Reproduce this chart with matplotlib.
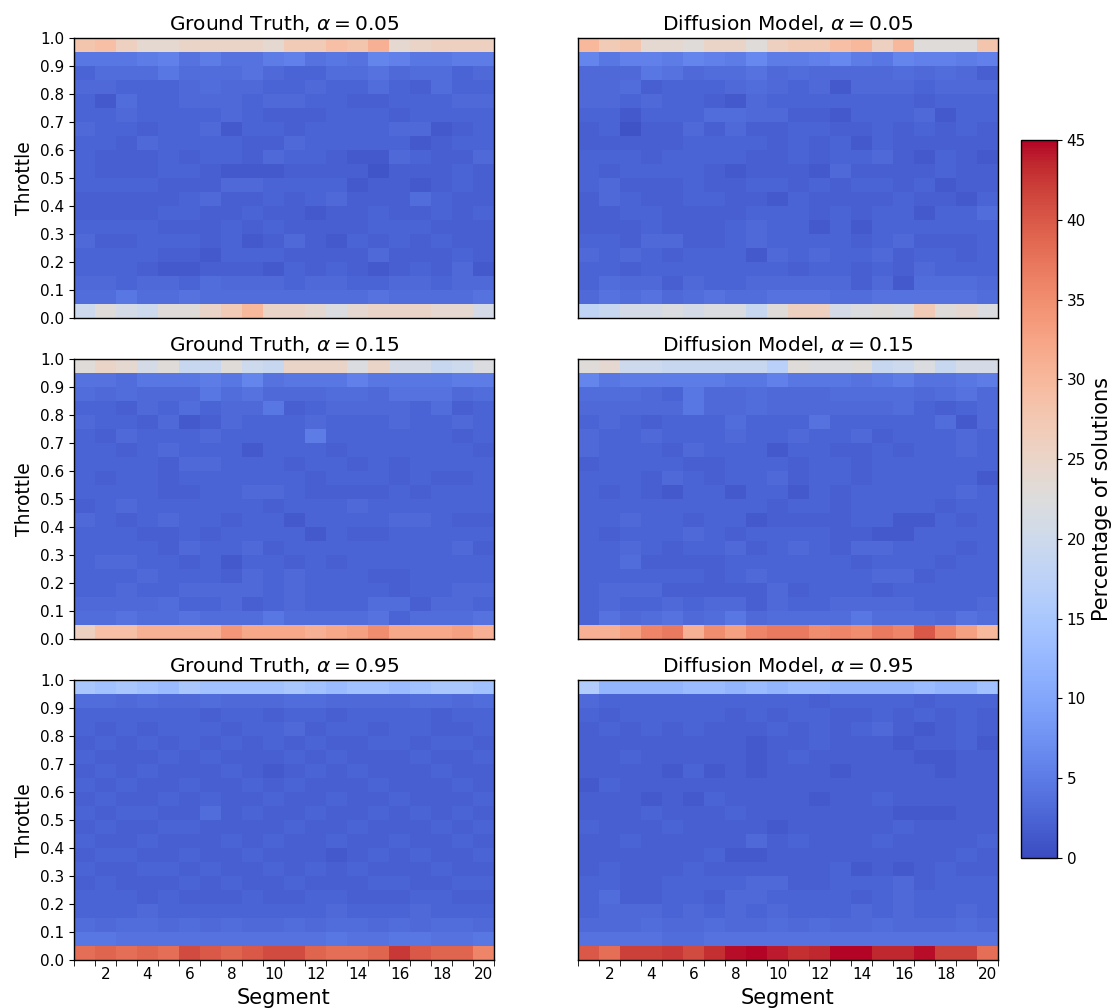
import numpy as np
import matplotlib
matplotlib.use("Agg")
import matplotlib.pyplot as plt

# Segment numbers and throttle bin edges (20 bins of width 0.05)
segments = list(range(1, 21))
throttle_ticks = [round(0.1 * i, 1) for i in range(11)]
cbar_ticks = list(range(0, 50, 5))

# Percentage of solutions per (throttle bin, segment); rows listed from the
# highest throttle bin (0.95-1.0) down to the lowest (0.0-0.05).
gt_005 = [
    [28, 29, 26, 24, 24, 25, 25, 25, 25, 24, 27, 27, 29, 28, 31, 24, 25, 26, 26, 26],
    [4.5, 4.5, 4.5, 5, 5.5, 4, 5, 4, 4, 5, 5.5, 4, 4.5, 4, 6, 5.5, 4.5, 4.5, 5, 5],
    [2.5, 3.5, 3.5, 3.5, 4.5, 3.5, 3.5, 3.5, 4, 3, 2.5, 2.5, 3.5, 3.5, 4, 3, 3.5, 3.5, 2.5, 3],
    [3, 3, 2.5, 2.5, 2.5, 3, 3.5, 3, 3, 2.5, 2.5, 3, 2.5, 2.5, 3.5, 2.5, 2, 3.5, 2.5, 2.5],
    [2.5, 1.5, 3.5, 2.5, 2.5, 3, 3, 3, 2.5, 3, 3, 2.5, 2.5, 2, 2, 2.5, 2.5, 2.5, 3, 3],
    [2.5, 2.5, 3, 2.5, 2.5, 2.5, 2.5, 3, 2.5, 2, 2, 2, 2.5, 2.5, 2.5, 2, 2.5, 2.5, 2.5, 2.5],
    [3, 2.5, 2.5, 2, 2.5, 2.5, 3, 1.5, 2.5, 2.5, 2, 2.5, 2.5, 2.5, 2.5, 3, 3, 1.5, 2, 2.5],
    [2.5, 2.5, 2, 3, 2.5, 2.5, 2.5, 2.5, 2, 2, 3, 2.5, 2.5, 2.5, 2.5, 2.5, 1.5, 2, 2.5, 2.5],
    [2.5, 2, 2, 2, 2.5, 2, 2.5, 2.5, 2, 3, 2.5, 2.5, 2, 1.5, 1.5, 3, 2.5, 2, 2, 3],
    [2.5, 2, 2, 2, 2.5, 2.5, 2, 1.5, 1.5, 1.5, 2, 2, 2, 2, 1, 2, 2, 2, 2.5, 2],
    [2.5, 2.5, 2.5, 2.5, 2, 2, 2, 3, 3, 2.5, 2.5, 2.5, 2.5, 1.5, 2, 2, 1.5, 2, 2.5, 2],
    [2, 2, 2, 2, 2, 2.5, 3, 2, 2, 2.5, 2, 2.5, 3, 2, 2, 2, 3.5, 2.5, 2, 2],
    [2, 2, 2, 2, 2.5, 2.5, 2, 2, 2.5, 2, 2, 1.5, 2, 2, 2.5, 2, 2, 2.5, 2, 2.5],
    [2.5, 2.5, 2.5, 2.5, 2, 2, 2, 2.5, 2, 2.5, 2, 2, 2, 2, 2.5, 2.5, 2.5, 2, 2, 2],
    [3, 2, 2, 2.5, 2.5, 2.5, 2, 2.5, 1.5, 2, 3, 2, 1.5, 2.5, 2, 2.5, 2, 2.5, 2, 2],
    [2.5, 2.5, 2.5, 2.5, 2, 2, 1.5, 2.5, 2.5, 2.5, 2, 2, 2, 2, 3, 2, 2, 2, 2.5, 2],
    [2.5, 2.5, 2.5, 2, 1.5, 1.5, 2, 2, 2, 1.5, 2.5, 2, 2.5, 2, 1.5, 2, 2.5, 2, 3, 1.5],
    [3, 3, 2.5, 3, 3, 2.5, 3.5, 3, 3, 3, 2.5, 3, 3, 2.5, 2.5, 3, 3, 2.5, 3, 3],
    [3.5, 3.5, 4.5, 3.5, 3.5, 4, 3.5, 3.5, 3.5, 3.5, 3.5, 3.5, 3.5, 3.5, 4, 3.5, 3.5, 3.5, 3.5, 4],
    [20, 23, 21, 20, 23, 23, 25, 27, 30, 25, 25, 24, 22, 24, 25, 25, 25, 24, 24, 21],
]

dm_005 = [
    [30, 27, 28, 24, 24, 23, 25, 25, 23, 26, 27, 27, 29, 30, 26, 30, 23, 23, 23, 28],
    [6, 4.5, 5.5, 5.5, 5, 6, 5.5, 5, 6.5, 5, 5, 5.5, 6.5, 5, 4.5, 6, 5.5, 5.5, 5, 5.5],
    [3, 3, 3, 4.5, 4, 3, 3.5, 3.5, 4, 3, 3.5, 3, 3, 3, 3, 3.5, 3, 3.5, 3, 2],
    [3, 3, 3.5, 2, 2.5, 2.5, 2.5, 3, 3.5, 3, 2.5, 3, 1.5, 3, 3, 3, 2.5, 3, 3, 3],
    [3, 3, 2.5, 3, 2.5, 2.5, 2, 1.5, 3, 2.5, 2.5, 2.5, 2.5, 2.5, 2.5, 2.5, 2, 2.5, 2.5, 2.5],
    [2.5, 2.5, 1.5, 2.5, 2.5, 2.5, 3.5, 3.5, 3, 3, 2, 2, 1.5, 2.5, 2.5, 2.5, 3, 1.5, 2.5, 2.5],
    [2, 2.5, 0.8, 2, 2, 3, 2, 3, 2, 2, 2.5, 2.5, 2, 2, 2.5, 2, 2.5, 2, 2.5, 2],
    [2, 2, 2, 2, 2, 2.5, 2.5, 2.5, 2.5, 2, 2.5, 2, 2.5, 1.5, 2.5, 2, 2, 2, 2, 2],
    [2.5, 2.5, 2.5, 2, 2.5, 2.5, 2.5, 2.5, 2, 2, 2.5, 2, 2.5, 2.5, 3, 2, 1.5, 2.5, 2, 1.5],
    [2.5, 2, 2.5, 2.5, 2.5, 2.5, 2, 1.5, 2, 2, 2, 1.5, 3, 2, 2, 2, 2, 2.5, 2, 2],
    [2.5, 3, 2, 2, 2, 2.5, 2, 2, 2.5, 2.5, 2, 2.5, 2, 2.5, 2.5, 2, 2.5, 1.5, 2, 2],
    [2, 3, 2.5, 2, 2, 2.5, 2.5, 2, 2, 1.5, 2.5, 2, 2, 2, 2, 2.5, 2, 2, 1.5, 2.5],
    [2, 2, 2.5, 2.5, 2, 2, 2, 2, 2.5, 2.5, 2.5, 2, 2.5, 2, 2.5, 2.5, 1.5, 2.5, 2.5, 3.5],
    [2, 2, 2, 2.5, 2, 2, 2, 2.5, 3, 2.5, 2.5, 1.5, 2.5, 1.5, 2.5, 2.5, 2.5, 2.5, 2.5, 2.5],
    [2.5, 2.5, 2, 3, 3, 2, 2, 2.5, 3, 2.5, 2.5, 2.5, 2.5, 2, 2.5, 3, 2, 2, 2, 2.5],
    [3, 2.5, 3, 2.5, 2, 2.5, 2.5, 2.5, 1.5, 3, 2.5, 3, 2.5, 2.5, 3, 2, 2.5, 2.5, 2, 2.5],
    [2.5, 2.5, 2, 2.5, 2.5, 2.5, 2.5, 2.5, 2.5, 2.5, 2, 2.5, 2.5, 2, 2.5, 2, 3, 2.5, 2.5, 2.5],
    [2.5, 3.5, 3, 3, 2, 3, 2.5, 2.5, 3, 3, 3, 3, 3, 2, 3, 1.5, 3.5, 3.5, 3.5, 3],
    [3, 4, 3.5, 4, 3, 3.5, 4, 3.5, 3.5, 4, 4, 4, 3.5, 3.5, 4, 4, 4, 4, 4, 3.5],
    [18, 19, 21, 21, 22, 21, 22, 22, 19, 23, 26, 26, 21, 22, 23, 22, 27, 23, 24, 22],
]

gt_015 = [
    [23, 25, 24, 21, 23, 19, 19, 23, 20, 19, 25, 25, 25, 22, 25, 21, 21, 19, 20, 22],
    [4, 4, 3.5, 4.5, 4.5, 4.5, 5, 4.5, 6, 4, 4.5, 4.5, 4.5, 5.5, 4.5, 4.5, 4.5, 4.5, 5, 5],
    [3.5, 3, 3.5, 3, 3, 3, 4.5, 3.5, 4, 3, 3, 3, 3.5, 3.5, 3, 4, 4, 4, 3, 3.5],
    [2.5, 2.5, 2, 3, 2.5, 3.5, 2.5, 3, 3, 4.5, 2, 2.5, 3, 3, 3, 3, 2.5, 3.5, 2, 2.5],
    [3, 2.5, 2.5, 2, 3, 1.5, 2, 3, 2.5, 2.5, 2.5, 3, 2.5, 2.5, 2.5, 3, 2.5, 2.5, 3, 2.5],
    [2.5, 2, 3, 2.5, 2.5, 2.5, 3, 2.5, 2.5, 2.5, 2.5, 5, 2.5, 2.5, 2.5, 2.5, 2.5, 2.5, 2, 2.5],
    [2.5, 2.5, 2, 2.5, 3, 2.5, 2.5, 2.5, 1.5, 2.5, 2.5, 2.5, 2, 2.5, 2.5, 2.5, 2.5, 2.5, 2.5, 2],
    [2.5, 2.5, 2.5, 2.5, 2, 3, 3, 2.5, 2.5, 2.5, 2, 2.5, 2.5, 2, 2.5, 2, 2.5, 2.5, 2.5, 2.5],
    [2.5, 2, 2.5, 2.5, 2, 2.5, 2.5, 2.5, 2.5, 2.5, 2.5, 2, 2.5, 2.5, 2.5, 2, 2.5, 2, 2, 2.5],
    [2.5, 2.5, 2.5, 2.5, 2, 2, 2.5, 2.5, 3, 3, 2.5, 2, 2, 2, 2, 2.5, 2, 2.5, 2.5, 2.5],
    [2, 2.5, 3, 2.5, 2.5, 2.5, 2.5, 2.5, 2.5, 2, 2.5, 2.5, 2.5, 3, 2.5, 2.5, 2.5, 2.5, 2.5, 2.5],
    [3, 2.5, 2, 2.5, 3, 2.5, 2.5, 2, 2.5, 2.5, 1.5, 2.5, 2.5, 2.5, 2.5, 3, 3, 2.5, 2, 2],
    [2.5, 2.5, 2.5, 2, 2, 2.5, 2, 2.5, 2.5, 2.5, 2.5, 1.5, 2.5, 2, 2, 2.5, 2.5, 2.5, 2.5, 2.5],
    [2.5, 2.5, 2.5, 2.5, 2, 3, 2.5, 2.5, 3, 2, 2.5, 2.5, 2.5, 2.5, 2.5, 2.5, 2.5, 2.5, 3, 2],
    [2.5, 3, 3, 2.5, 2.5, 2, 2.5, 1.5, 2.5, 2.5, 2, 2.5, 2, 2.5, 2.5, 2.5, 2.5, 2.5, 2.5, 2.5],
    [2.5, 2.5, 2.5, 3, 2.5, 2.5, 2.5, 2, 3, 2.5, 3, 2.5, 2.5, 2.5, 2, 2, 2.5, 2.5, 2.5, 2.5],
    [2.5, 2.5, 3, 2.5, 2.5, 3, 3, 3, 3, 2.5, 3, 2.5, 2.5, 2.5, 2.5, 2, 2.5, 2.5, 3, 3],
    [3, 3, 3, 3, 3.5, 2.5, 2.5, 3, 2, 2.5, 3, 2.5, 2.5, 2.5, 3.5, 3.5, 2, 3, 3, 2.5],
    [3.5, 3.5, 4, 3.5, 3.5, 4, 3.5, 3.5, 3.5, 4.5, 3.5, 3.5, 3.5, 3.5, 4, 2.5, 3.5, 3.5, 3.5, 4],
    [26, 29, 29, 31, 31, 31, 31, 34, 32, 32, 32, 31, 32, 33, 35, 32, 32, 32, 33, 31],
]

dm_015 = [
    [23, 24, 20, 20, 19, 19, 19, 19, 19, 17, 23, 22, 22, 23, 19, 20, 22, 19, 21, 21],
    [6, 4.5, 5, 5, 5, 5, 5, 4.5, 4.5, 5.5, 4.5, 4.5, 4.5, 4, 4.5, 5, 4, 4, 4.5, 5],
    [3.5, 3.5, 3.5, 3, 2.5, 4.5, 3, 3, 3.5, 3, 3, 3, 3.5, 3.5, 3.5, 3.5, 3, 3.5, 4, 3],
    [3, 3, 3, 3, 3, 4.5, 3, 3, 3.5, 3, 3, 3, 3, 3, 3, 3.5, 2.5, 2, 2.5, 3],
    [2.5, 3, 2.5, 2, 2.5, 2.5, 2.5, 3.5, 2.5, 2.5, 2.5, 4, 2.5, 2.5, 2.5, 2.5, 2.5, 3.5, 1.5, 3],
    [3, 2.5, 2.5, 3, 2.5, 2.5, 2.5, 3, 2.5, 2.5, 3, 2.5, 2.5, 3, 2, 2.5, 2.5, 2.5, 3, 2.5],
    [3, 2.5, 2.5, 2.5, 2, 3, 2.5, 2.5, 2.5, 1.5, 2.5, 2.5, 2, 2, 2.5, 2, 2.5, 2.5, 3, 2.5],
    [2, 2.5, 2.5, 2.5, 2.5, 2, 2, 2.5, 2.5, 2.5, 2, 2.5, 2.5, 2, 2.5, 2.5, 2.5, 2.5, 2.5, 2.5],
    [2.5, 2.5, 2.5, 2, 3, 2.5, 2, 2.5, 2.5, 3, 2, 2.5, 2.5, 2, 2.5, 2.5, 2.5, 2.5, 2.5, 1.5],
    [2.5, 2, 2.5, 2, 1.5, 2.5, 2.5, 1.5, 2.5, 2.5, 1.5, 2.5, 2, 2.5, 2.5, 2.5, 2.5, 2.5, 3, 2.5],
    [2.5, 2.5, 2.5, 2.5, 2.5, 2.5, 2.5, 2.5, 2.5, 2, 2.5, 2.5, 2, 2.5, 2.5, 2.5, 2.5, 2, 2.5, 2.5],
    [2.5, 2.5, 3, 2.5, 2.5, 2, 2.5, 2.5, 1.5, 2, 2, 2, 2, 2.5, 2.5, 1.5, 1.5, 2.5, 2, 2.5],
    [2.5, 2, 2.5, 2.5, 2.5, 3, 2.5, 2, 2.5, 2.5, 2.5, 2.5, 2, 2, 1.5, 1.5, 2.5, 2.5, 2.5, 2.5],
    [2.5, 2.5, 3, 2.5, 2, 2.5, 2.5, 3, 2, 2.5, 3, 2.5, 2, 3, 3, 2.5, 2.5, 2.5, 2, 2.5],
    [2.5, 2.5, 3.5, 2, 2, 2, 2, 2.5, 2.5, 2.5, 2.5, 2.5, 2.5, 2, 2.5, 2.5, 2.5, 2, 2.5, 2.5],
    [2.5, 2.5, 2.5, 2.5, 2.5, 2.5, 2, 2.5, 3, 2.5, 2.5, 2.5, 2.5, 2.5, 3, 3, 2, 2.5, 2.5, 2.5],
    [2.5, 3, 3, 3, 2, 2, 2, 2, 2, 3, 2, 2.5, 2.5, 2.5, 2, 2.5, 2.5, 2.5, 2.5, 2.5],
    [2.5, 3, 2.5, 2.5, 3, 2.5, 3, 3, 2, 3, 2.5, 2.5, 3, 3, 3, 3, 2.5, 2.5, 2.5, 3],
    [2.5, 4, 3, 3.5, 4, 3, 3.5, 4.5, 3, 3.5, 3.5, 3.5, 3.5, 4.5, 3.5, 3.5, 3.5, 3, 4, 3.5],
    [31, 31, 33, 36, 37, 31, 35, 33, 36, 37, 37, 35, 36, 35, 37, 36, 40, 36, 33, 30],
]

gt_095 = [
    [15, 14, 15, 14, 13, 15, 14, 14, 14, 14, 15, 14, 13, 14, 14, 13, 14, 15, 15, 14],
    [3.5, 3.5, 3, 3.5, 3, 3, 3.5, 3, 3, 3, 3.5, 3.5, 3, 3, 3, 3, 3.5, 3.5, 3, 3.5],
    [2.5, 2.5, 2.5, 2.5, 2.5, 2.5, 2, 2.5, 2.5, 2, 2.5, 2.5, 2, 2.5, 2.5, 2.5, 2.5, 2, 2.5, 2.5],
    [2.5, 2, 2.5, 2, 2.5, 2.5, 2.5, 2, 2.5, 2.5, 3, 2, 2.5, 2.5, 2, 2.5, 2.5, 2, 2, 2.5],
    [2, 2.5, 2, 2.5, 2, 2.5, 2, 2.5, 2, 2.5, 2, 2.5, 2, 2, 2.5, 2.5, 2, 2.5, 2.5, 2],
    [2.5, 2, 2, 2, 2.5, 2, 2.5, 2, 2, 2, 2.5, 2, 2.5, 2, 2, 2, 2.5, 2, 2, 2.5],
    [2, 2.5, 2, 2.5, 2, 2, 2, 2.5, 2, 1.5, 2, 2.5, 2, 2.5, 2, 2, 2, 2.5, 2, 2],
    [2.5, 2, 2.5, 2, 2, 2.5, 2, 2, 2.5, 2, 2.5, 2, 2, 2, 2.5, 2, 2, 2, 2.5, 2],
    [2, 2.5, 2, 2, 2.5, 2, 2.5, 2, 2, 2.5, 2, 2, 2.5, 2, 2, 2.5, 2, 2, 2, 2.5],
    [2.5, 2, 2.5, 2.5, 2, 2, 3.5, 2, 2.5, 2, 2, 2.5, 2, 2, 2.5, 2, 2.5, 2, 2.5, 2],
    [2, 2.5, 2, 2, 2.5, 2.5, 2, 2, 2, 2, 2.5, 2, 2, 2.5, 2, 2, 2, 2.5, 2, 2.5],
    [2.5, 2, 2, 2.5, 2, 2, 2, 2.5, 2, 2.5, 2, 2, 2.5, 2, 2, 2.5, 2, 2, 2.5, 2],
    [2, 2.5, 2.5, 2, 2, 2.5, 2, 2, 2.5, 2, 2, 2, 1.5, 2, 2.5, 2, 2.5, 2, 2, 2.5],
    [2.5, 2, 2, 2.5, 2.5, 2, 2.5, 2, 2, 2.5, 2, 2.5, 2, 2.5, 2, 2, 2, 2.5, 2, 2],
    [2, 2.5, 2, 2, 2, 2.5, 2, 2.5, 2, 2, 2.5, 2, 2, 2, 2.5, 2.5, 2, 2, 2.5, 2.5],
    [2.5, 2.5, 2.5, 2, 2.5, 2, 2, 2, 2.5, 2, 2, 2.5, 2.5, 2, 2, 2, 2.5, 2.5, 2, 2],
    [2.5, 2.5, 2.5, 3, 2.5, 2.5, 2.5, 2.5, 2.5, 2.5, 2.5, 2.5, 3, 2.5, 2.5, 2.5, 3, 2.5, 2.5, 2.5],
    [3.5, 3, 3.5, 3.5, 3, 3.5, 3, 3.5, 3, 3, 3.5, 3, 3.5, 3.5, 3, 3.5, 3, 3.5, 3.5, 3],
    [4.5, 4.5, 4, 4, 4, 4, 4, 4, 4, 4, 4, 4, 4.5, 4, 4, 4.5, 4.5, 4, 4, 4.5],
    [38, 39, 38, 39, 38, 41, 40, 39, 40, 41, 41, 39, 38, 38, 39, 42.5, 40, 39, 39, 36],
]

dm_095 = [
    [16, 12, 12, 12, 12, 13, 13, 12, 13, 12, 13, 13, 12, 12, 12, 12, 13, 12, 12, 14],
    [3, 2.5, 2.5, 2.5, 2.5, 2.5, 2.5, 2.5, 2.5, 2.5, 2.5, 2, 2.5, 2.5, 2.5, 2.5, 2, 2.5, 2.5, 2.5],
    [2.5, 2, 2.5, 2.5, 2.5, 2.5, 2.5, 2, 2.5, 2, 2.5, 2.5, 2, 2, 2.5, 2, 2.5, 2, 2.5, 2],
    [2, 2.5, 2, 2.5, 2, 2.5, 2, 2, 2, 2.5, 2, 2.5, 2, 2.5, 3, 2, 1.5, 2, 2.5, 2],
    [2, 2, 2, 2, 2, 2, 2, 2, 1.5, 2, 2, 2.5, 2, 2, 2, 1.5, 2, 2, 2.5, 1.5],
    [2, 2, 2.5, 2, 2, 2, 2, 2, 1.5, 2, 2.5, 2, 2, 2, 2, 2, 1.5, 1.5, 2, 2],
    [2, 2, 2, 2, 1.5, 2.5, 1.5, 2, 1.5, 2, 2, 2, 1.5, 2, 2, 2, 2, 1.5, 2, 2],
    [1.5, 2.5, 2, 2, 2, 2, 2, 2, 2, 2, 2, 2, 2, 2, 2, 2, 2, 2, 2, 2],
    [2, 2, 2, 1.5, 2, 1.5, 2.5, 2, 2, 2, 2, 1.5, 2, 2, 2.5, 2, 2, 2, 2, 2],
    [2, 2, 2, 2.5, 2, 2, 2, 2.5, 2, 2, 2, 2, 2, 2, 2, 1.5, 1.5, 1.5, 2, 2],
    [2.5, 2, 2, 2, 2.5, 2, 2, 2, 2, 1.5, 2, 2, 2, 2, 2, 2.5, 2, 2, 2, 2],
    [2, 2, 2.5, 2, 2, 2, 2, 2, 3, 2, 2.5, 2, 2, 2, 2.5, 2, 2, 2, 2, 2.5],
    [2, 2, 2, 2, 2, 2, 2.5, 1.5, 1.5, 2, 2, 2, 2, 2, 2, 2, 2, 2, 2.5, 2],
    [2, 2.5, 2, 2, 2, 2.5, 2, 2, 2, 2, 2, 2, 2.5, 1.5, 2, 1.5, 2, 2.5, 2, 2],
    [2.5, 2.5, 2, 2, 2.5, 2.5, 2.5, 2.5, 3, 3, 2, 2, 2.5, 2.5, 2.5, 3, 2, 2.5, 2.5, 2.5],
    [2.5, 3.5, 2, 2, 2.5, 2.5, 2, 3, 3, 2.5, 2.5, 2.5, 2.5, 2, 2.5, 3, 2.5, 2.5, 2.5, 2.5],
    [2.5, 3, 3, 3, 2.5, 3, 2.5, 3, 2.5, 3, 2.5, 2.5, 2.5, 3, 2.5, 3, 2.5, 2.5, 3, 2.5],
    [3, 3, 3, 3.5, 3, 3, 3.5, 3, 3, 3.5, 3, 3.5, 3, 3, 3.5, 3, 3, 3, 3.5, 3],
    [4, 4, 4, 4, 3.5, 3.5, 4, 4, 4, 4, 4, 4, 4, 4, 4, 4, 4, 4, 4, 4],
    [40, 38, 42, 42, 42.5, 41, 43, 44.5, 45, 44, 43, 43.5, 45, 45, 43.5, 43.5, 44.5, 42, 42, 38],
]

panels = [
    (gt_005, "Ground Truth, $\\alpha = 0.05$"),
    (dm_005, "Diffusion Model, $\\alpha = 0.05$"),
    (gt_015, "Ground Truth, $\\alpha = 0.15$"),
    (dm_015, "Diffusion Model, $\\alpha = 0.15$"),
    (gt_095, "Ground Truth, $\\alpha = 0.95$"),
    (dm_095, "Diffusion Model, $\\alpha = 0.95$"),
]

W, H = 1115, 1008
fig = plt.figure(figsize=(W / 100, H / 100), dpi=100)

col_left = [74, 578]
row_top = [38, 359, 680]
ax_w, ax_h = 420, 280

n_seg = len(segments)
x_edges = np.arange(n_seg + 1)
y_edges = np.linspace(0, 1, len(gt_005) + 1)

vmin, vmax = 0, 45
mesh = None
for k, (grid, title) in enumerate(panels):
    r, c = divmod(k, 2)
    x0 = col_left[c]
    y0 = row_top[r]
    ax = fig.add_axes([x0 / W, 1 - (y0 + ax_h) / H, ax_w / W, ax_h / H])
    data = np.array(grid, dtype=float)[::-1]  # lowest throttle bin first
    mesh = ax.pcolormesh(x_edges, y_edges, data, cmap="coolwarm",
                         vmin=vmin, vmax=vmax, shading="flat")
    ax.set_xlim(0, n_seg)
    ax.set_ylim(0, 1)
    ax.set_title(title, fontsize=14.5, pad=6)

    if c == 0:
        ax.set_yticks(throttle_ticks)
        ax.set_yticklabels([f"{t:.1f}" for t in throttle_ticks], fontsize=11)
        ax.set_ylabel("Throttle", fontsize=13.5)
    else:
        ax.set_yticks([])

    if r == 2:
        ax.set_xticks(x_edges, minor=True)
        ax.set_xticks([s - 0.5 for s in segments if s % 2 == 0])
        ax.set_xticklabels([str(s) for s in segments if s % 2 == 0], fontsize=11)
        ax.tick_params(axis="x", which="major", length=0, pad=5)
        ax.tick_params(axis="x", which="minor", length=4)
        ax.set_xlabel("Segment", fontsize=15)
    else:
        ax.set_xticks([])

    for s in ax.spines.values():
        s.set_linewidth(1.0)

cax = fig.add_axes([1021 / W, 1 - 858 / H, 36 / W, 718 / H])
cb = fig.colorbar(mesh, cax=cax, ticks=cbar_ticks)
cb.ax.tick_params(labelsize=11)
cb.set_label("Percentage of solutions", fontsize=15)
cb.outline.set_linewidth(1.0)

fig.savefig("out.png", dpi=100)
